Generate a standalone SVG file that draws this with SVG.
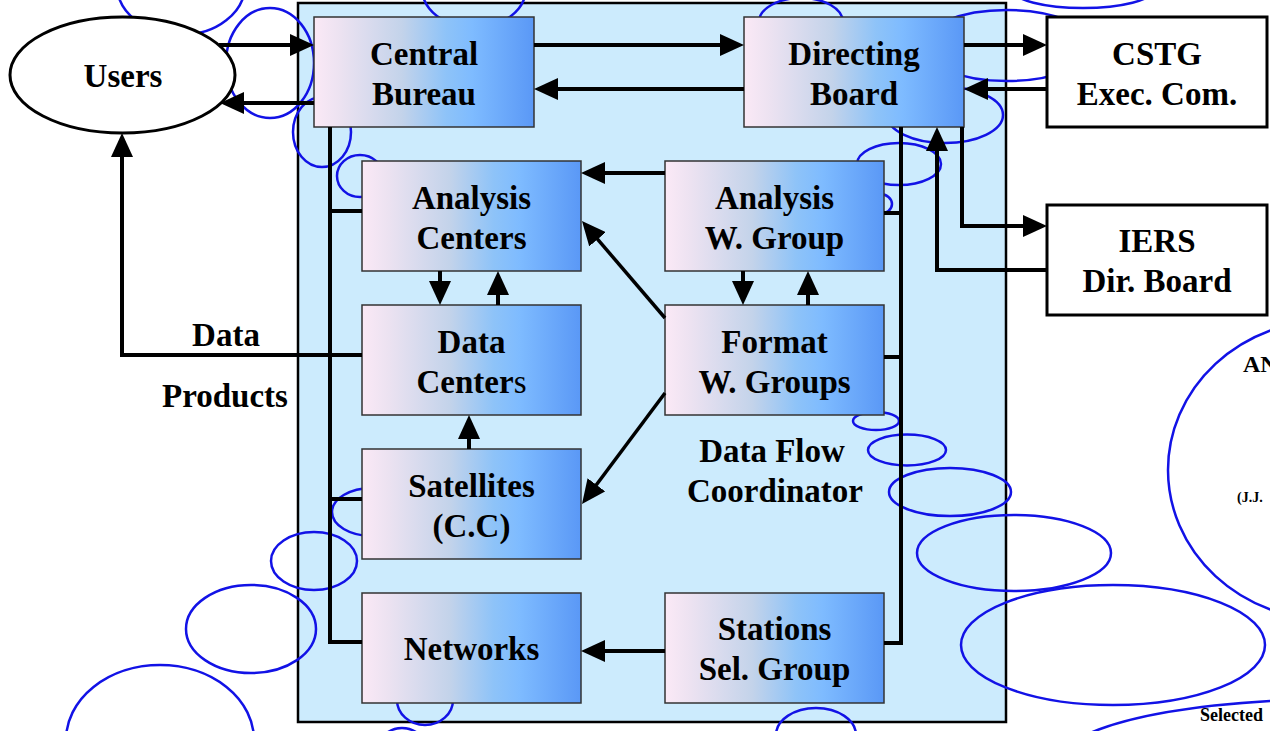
<svg xmlns="http://www.w3.org/2000/svg" width="1270" height="731" viewBox="0 0 1270 731">
<defs>
<linearGradient id="g" x1="0" y1="0" x2="1" y2="0">
<stop offset="0" stop-color="#FBE9F6"/>
<stop offset="0.12" stop-color="#ECE2F1"/>
<stop offset="0.4" stop-color="#C3D3EA"/>
<stop offset="0.6" stop-color="#8EC3F8"/>
<stop offset="0.72" stop-color="#7EBBFF"/>
<stop offset="1" stop-color="#5A98F6"/>
</linearGradient>
<marker id="ah" viewBox="0 0 24 22" refX="14" refY="11" markerWidth="24" markerHeight="22" markerUnits="userSpaceOnUse" orient="auto">
<path d="M0,0 L24,11 L0,22 z" fill="#000"/>
</marker>
<style>
.gb{fill:url(#g);stroke:#333;stroke-width:1.5}
.wb{fill:#fff;stroke:#000;stroke-width:3}
.bl{fill:none;stroke:#1212E6;stroke-width:2.5}
.c{fill:none;stroke:#000;stroke-width:4}
.d{fill:none;stroke:#000;stroke-width:3.5}
.a{marker-end:url(#ah)}
.t{font-family:"Liberation Serif","Times New Roman",serif;font-weight:bold;font-size:33px;text-anchor:middle;fill:#000}
.s{font-family:"Liberation Serif","Times New Roman",serif;font-weight:bold;fill:#000}
</style>
</defs>

<rect id="panel" x="298" y="3" width="708" height="719" fill="#CCEBFD" stroke="#000" stroke-width="2.5"/>

<g id="noise-ellipses" class="bl">
<ellipse cx="181" cy="-15" rx="64" ry="50"/>
<ellipse cx="270" cy="63" rx="44" ry="55"/>
<ellipse cx="322" cy="132" rx="29" ry="35"/>
<ellipse cx="360" cy="176" rx="23" ry="21"/>
<ellipse cx="474" cy="-12" rx="52" ry="40"/>
<ellipse cx="801" cy="22" rx="42" ry="24"/>
<ellipse cx="1007" cy="45.5" rx="85" ry="35.5"/>
<ellipse cx="1083" cy="-10" rx="70" ry="18"/>
<ellipse cx="945" cy="115" rx="58" ry="28"/>
<ellipse cx="899" cy="164" rx="42" ry="21"/>
<ellipse cx="880" cy="204" rx="12" ry="10"/>
<ellipse cx="876" cy="421" rx="23" ry="9"/>
<ellipse cx="907" cy="450" rx="39" ry="15.5"/>
<ellipse cx="950" cy="492" rx="61" ry="24"/>
<ellipse cx="1014" cy="553" rx="97" ry="38"/>
<ellipse cx="1113" cy="645" rx="152" ry="60"/>
<ellipse cx="1330" cy="470" rx="162" ry="150"/>
<path d="M1090,733 Q1150,708 1272,701"/>
<ellipse cx="160" cy="740" rx="94" ry="75"/>
<ellipse cx="251" cy="629" rx="65" ry="44"/>
<ellipse cx="314" cy="561" rx="43" ry="29"/>
<ellipse cx="372" cy="512" rx="40" ry="24"/>
<ellipse cx="425" cy="700" rx="28" ry="25"/>
<ellipse cx="402" cy="752" rx="25" ry="24"/>
<ellipse cx="816" cy="735" rx="40" ry="27"/>
</g>

<g id="users"><ellipse cx="122.5" cy="75" rx="112.5" ry="58" fill="#fff" stroke="#000" stroke-width="3"/><text class="t" x="123" y="87">Users</text></g>
<g id="cstg"><rect class="wb" x="1047" y="17" width="220" height="110"/><text class="t" x="1157" y="65">CSTG</text><text class="t" x="1157" y="105">Exec. Com.</text></g>
<g id="iers"><rect class="wb" x="1047" y="205" width="220" height="110"/><text class="t" x="1157" y="252">IERS</text><text class="t" x="1157" y="292">Dir. Board</text></g>

<g id="central-bureau"><rect class="gb" x="314" y="17" width="220" height="110"/><text class="t" x="424" y="65">Central</text><text class="t" x="424" y="105">Bureau</text></g>
<g id="directing-board"><rect class="gb" x="744" y="17" width="220" height="110"/><text class="t" x="854" y="65">Directing</text><text class="t" x="854" y="105">Board</text></g>
<g id="analysis-centers"><rect class="gb" x="362" y="161" width="219" height="110"/><text class="t" x="471.5" y="209">Analysis</text><text class="t" x="471.5" y="249">Centers</text></g>
<g id="analysis-wg"><rect class="gb" x="665" y="161" width="219" height="110"/><text class="t" x="774.5" y="209">Analysis</text><text class="t" x="774.5" y="249">W. Group</text></g>
<g id="data-centers"><rect class="gb" x="362" y="305" width="219" height="110"/><text class="t" x="471.5" y="353">Data</text><text class="t" x="471.5" y="393">Center<tspan font-weight="normal">s</tspan></text></g>
<g id="format-wg"><rect class="gb" x="665" y="305" width="219" height="110"/><text class="t" x="774.5" y="353">Format</text><text class="t" x="774.5" y="393">W. Groups</text></g>
<g id="satellites"><rect class="gb" x="362" y="449" width="219" height="110"/><text class="t" x="471.5" y="497">Satellites</text><text class="t" x="471.5" y="537">(C.C)</text></g>
<g id="networks"><rect class="gb" x="362" y="593" width="219" height="110"/><text class="t" x="471.5" y="660">Networks</text></g>
<g id="stations"><rect class="gb" x="665" y="593" width="219" height="110"/><text class="t" x="774.5" y="640">Stations</text><text class="t" x="774.5" y="680">Sel. Group</text></g>

<g id="connectors">
<path class="c a" d="M219,45 H304"/>
<path class="c a" d="M314,103 H230"/>
<path class="c a" d="M534,45 H734"/>
<path class="c a" d="M744,89 H544"/>
<path class="c a" d="M964,45 H1037"/>
<path class="c a" d="M1047,89 H974"/>
<path class="c a" d="M962,127 V226 H1037"/>
<path class="c a" d="M1047,270 H937 V137"/>
<path class="c" d="M330,127 V642 H362"/>
<path class="c" d="M330,211 H362 M330,499 H362"/>
<path class="c a" d="M362,355 H122 V143"/>
<path class="c" d="M901,127 V643 H884 M884,213 H901 M884,357 H901"/>
<path class="c a" d="M665,173 H591"/>
<path class="c a" d="M440,271 V295"/>
<path class="c a" d="M498,305 V281"/>
<path class="c a" d="M743,271 V295"/>
<path class="c a" d="M808,305 V281"/>
<path class="c a" d="M469,449 V425"/>
<path class="d a" d="M665,318 L588.5,228.6"/>
<path class="d a" d="M665,393 L588,496"/>
<path class="c a" d="M665,651 H591"/>
</g>

<g id="labels">
<text class="t" x="226" y="346">Data</text>
<text class="t" x="225" y="407">Products</text>
<text class="t" x="772" y="462">Data Flow</text>
<text class="t" x="775" y="502">Coordinator</text>
<text class="s" x="1243" y="372" font-size="24">AN</text>
<text class="s" x="1237" y="502" font-size="14">(J.J.</text>
<text class="s" x="1200" y="721" font-size="18">Selected</text>
</g>
</svg>
